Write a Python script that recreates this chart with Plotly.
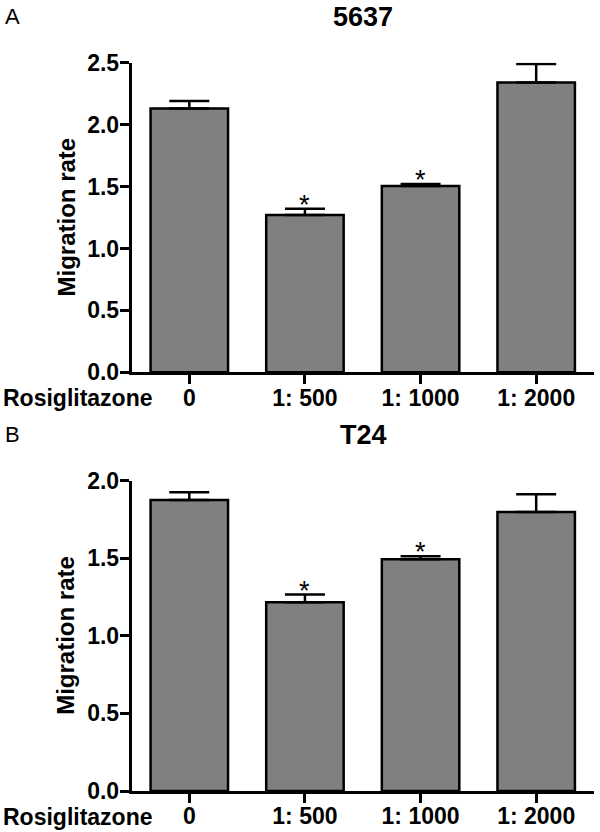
import plotly.graph_objects as go

# ---- data ----
categories = ["0", "1: 500", "1: 1000", "1: 2000"]
mean_5637 = [2.13, 1.27, 1.505, 2.34]
sem_5637 = [0.06, 0.05, 0.015, 0.15]
sig_5637 = [False, True, True, False]

mean_t24 = [1.875, 1.216, 1.493, 1.798]
sem_t24 = [0.05, 0.05, 0.02, 0.114]
sig_t24 = [False, True, True, False]

y_ticks_a = [0, 0.5, 1.0, 1.5, 2.0, 2.5]
y_ticks_b = [0, 0.5, 1.0, 1.5, 2.0]

FONT = "Liberation Sans, Arial, sans-serif"
W, H = 600, 832

xpos = list(range(len(categories)))

fig = go.Figure()

def add_panel(means, sems, xa, ya):
    fig.add_trace(go.Bar(
        x=xpos, y=means, xaxis=xa, yaxis=ya, width=0.67,
        marker=dict(color="#808080", line=dict(color="black", width=2.5)),
        error_y=dict(type="data", symmetric=False, array=sems,
                     arrayminus=[0] * len(sems), color="black",
                     thickness=2.5, width=20),
        showlegend=False, hoverinfo="skip"))

add_panel(mean_5637, sem_5637, "x", "y")
add_panel(mean_t24, sem_t24, "x2", "y2")

x_dom = [131.5 / W, 594 / W]
ydom_a = [1 - 372.3 / H, 1 - 62.7 / H]
ydom_b = [1 - 791 / H, 1 - 480.7 / H]

tickfont = dict(family=FONT, size=23, color="black", weight="bold")
axis_common = dict(showline=True, linecolor="black", linewidth=2.5,
                   ticks="outside", ticklen=9, tickwidth=2.5, tickcolor="black",
                   showgrid=False, zeroline=False, tickfont=tickfont)

fig.update_layout(
    width=W, height=H,
    margin=dict(l=0, r=0, t=0, b=0, autoexpand=False),
    paper_bgcolor="white", plot_bgcolor="white",
    xaxis=dict(domain=x_dom, range=[-0.5, 3.5], anchor="y",
               tickvals=xpos, ticktext=categories, ticklabelstandoff=-6,
               **axis_common),
    yaxis=dict(domain=ydom_a, range=[0, 2.5], anchor="x",
               tickvals=y_ticks_a, tickformat=".1f", ticklabelstandoff=-4,
               **axis_common),
    xaxis2=dict(domain=x_dom, range=[-0.5, 3.5], anchor="y2",
                tickvals=xpos, ticktext=categories, ticklabelstandoff=-6,
                **axis_common),
    yaxis2=dict(domain=ydom_b, range=[0, 2.0], anchor="x2",
                tickvals=y_ticks_b, tickformat=".1f", ticklabelstandoff=-4,
                **axis_common),
)

ann = []
boldfont = dict(family=FONT, size=23, color="black", weight="bold")

# significance stars
for means, sems, sig, xr, yr in [(mean_5637, sem_5637, sig_5637, "x", "y"),
                                 (mean_t24, sem_t24, sig_t24, "x2", "y2")]:
    for i, s in enumerate(sig):
        if s:
            ann.append(dict(x=i, y=means[i] + sems[i], xref=xr, yref=yr,
                            text="*", showarrow=False, yanchor="middle",
                            yshift=4, font=dict(family=FONT, size=27, color="black")))

for dom, title, letter in [(ydom_a, "5637", "A"), (ydom_b, "T24", "B")]:
    top = dom[1]
    mid = (dom[0] + dom[1]) / 2
    ann.append(dict(x=363 / W, y=top + 46 / H, xref="paper", yref="paper",
                    text=title, showarrow=False, xanchor="center", yanchor="middle",
                    font=dict(family=FONT, size=27, color="black", weight="bold")))
    ann.append(dict(x=3 / W, y=top + 46 / H, xref="paper", yref="paper",
                    text=letter, showarrow=False, xanchor="left", yanchor="middle",
                    font=dict(family=FONT, size=22, color="black")))
    ann.append(dict(x=66 / W, y=mid, xref="paper", yref="paper",
                    text="Migration rate", showarrow=False, textangle=-90,
                    xanchor="center", yanchor="middle",
                    font=dict(family=FONT, size=24, color="black", weight="bold")))
    ann.append(dict(x=1 / W, y=dom[0] - 26 / H, xref="paper", yref="paper",
                    text="Rosiglitazone", showarrow=False, xanchor="left",
                    yanchor="middle", font=boldfont))

fig.update_layout(annotations=ann)
fig.write_html("out.html",
               config={"displayModeBar": False},
               post_script="document.body.style.margin='0';"
                           "document.body.style.overflow='hidden';")
